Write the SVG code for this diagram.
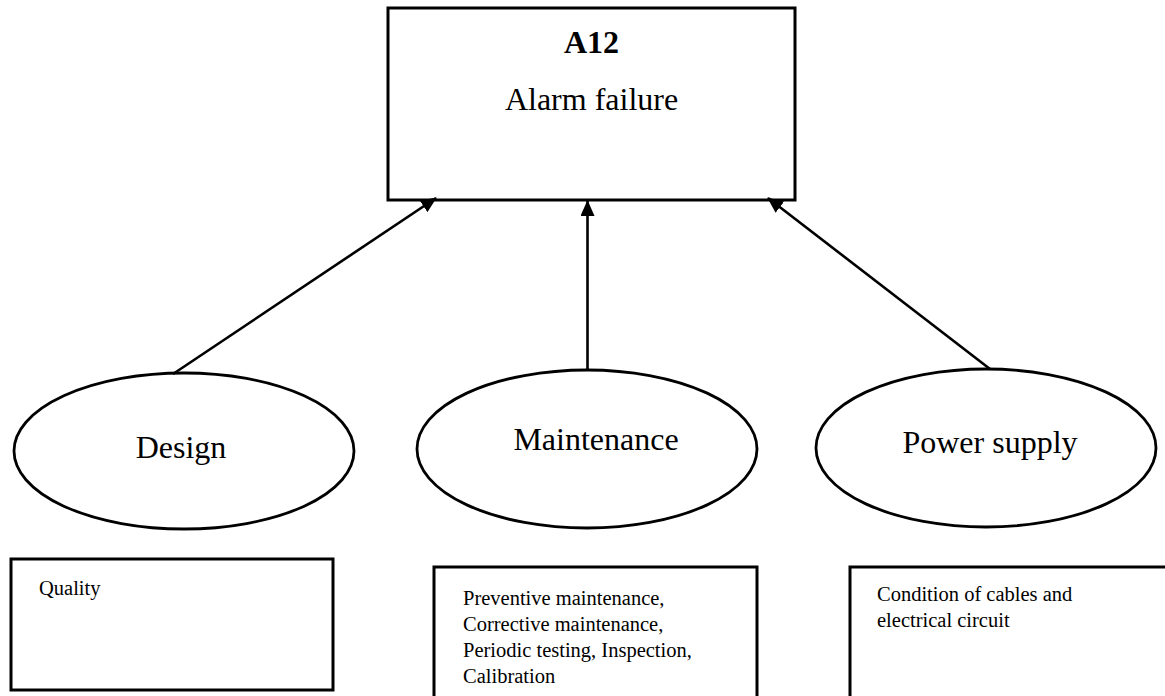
<svg xmlns="http://www.w3.org/2000/svg" width="1165" height="696" viewBox="0 0 1165 696">
  <style>
    .box { fill: #ffffff; stroke: #000000; stroke-width: 3; }
    .oval { fill: #ffffff; stroke: #000000; stroke-width: 2.8; }
    .link { fill: none; stroke: #000000; stroke-width: 2.6; }
    .title { font-family: "Liberation Serif", "Times New Roman", serif; font-size: 32px; font-weight: bold; fill: #000; text-anchor: middle; }
    .big { font-family: "Liberation Serif", "Times New Roman", serif; font-size: 32px; fill: #000; text-anchor: middle; }
    .small { font-family: "Liberation Serif", "Times New Roman", serif; font-size: 20.5px; fill: #000; }
  </style>
  <defs>
    <marker id="arrow" viewBox="0 0 16 14" refX="15" refY="7" markerWidth="16" markerHeight="14" markerUnits="userSpaceOnUse" orient="auto">
      <path d="M0,0 L16,7 L0,14 Z" fill="#000000"/>
    </marker>
  </defs>
  <rect width="1165" height="696" fill="#ffffff"/>

  <!-- top event -->
  <g id="alarm-failure">
    <rect class="box" x="388" y="8" width="407" height="192"/>
    <text class="title" x="591.5" y="53">A12</text>
    <text class="big" x="591.5" y="110">Alarm failure</text>
  </g>

  <!-- contributing factors -->
  <g id="design">
    <ellipse class="oval" cx="184" cy="451" rx="170" ry="78"/>
    <text class="big" x="181" y="458">Design</text>
  </g>
  <g id="maintenance">
    <ellipse class="oval" cx="587" cy="449" rx="170" ry="79"/>
    <text class="big" x="596" y="450">Maintenance</text>
  </g>
  <g id="power-supply">
    <ellipse class="oval" cx="986" cy="448" rx="170" ry="79"/>
    <text class="big" x="990" y="453">Power supply</text>
  </g>

  <!-- details -->
  <g id="design-detail">
    <rect class="box" x="11" y="559" width="322" height="131"/>
    <text class="small" x="39" y="595">Quality</text>
  </g>
  <g id="maintenance-detail">
    <rect class="box" x="434" y="567" width="323" height="140"/>
    <text class="small" x="463" y="605">Preventive maintenance,</text>
    <text class="small" x="463" y="631">Corrective maintenance,</text>
    <text class="small" x="463" y="657">Periodic testing, Inspection,</text>
    <text class="small" x="463" y="683">Calibration</text>
  </g>
  <g id="power-detail">
    <rect class="box" x="850" y="567" width="330" height="140"/>
    <text class="small" x="877" y="601">Condition of cables and</text>
    <text class="small" x="877" y="627">electrical circuit</text>
  </g>

  <!-- connectors -->
  <g id="connectors">
    <line class="link" x1="173" y1="374" x2="436" y2="198" marker-end="url(#arrow)"/>
    <line class="link" x1="587.5" y1="369" x2="587.5" y2="201" marker-end="url(#arrow)"/>
    <line class="link" x1="990" y1="369" x2="768" y2="198" marker-end="url(#arrow)"/>
  </g>
</svg>
